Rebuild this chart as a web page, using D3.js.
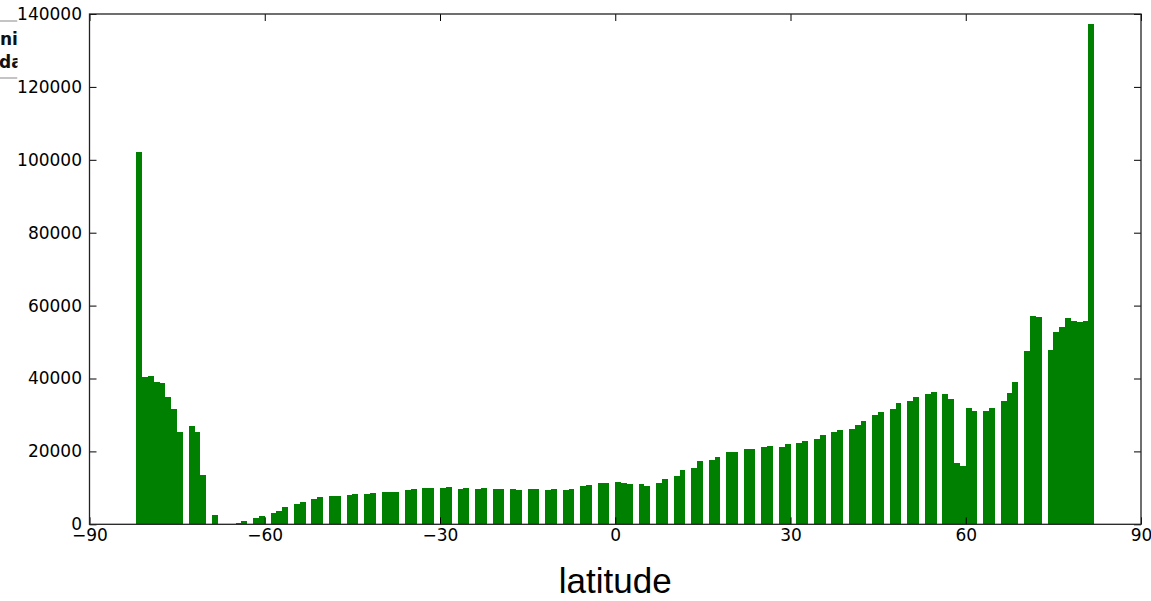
<!DOCTYPE html>
<html>
<head>
<meta charset="utf-8">
<script src="https://cdn.jsdelivr.net/npm/d3@7"></script>
<style>
  html, body { margin: 0; padding: 0; background: #ffffff; }
  svg { display: block; }
</style>
</head>
<body>
<svg id="chart" width="1151" height="601"></svg>
<script>
// Histogram of latitudes, 1-degree bins.
const firstBinLat = -82;           // left edge of the first bin
const binWidth = 1;                // degrees per bin
// counts per bin, from [-82,-81) up to [81,82)
const counts = [
  102200, 40300, 40600, 39100, 38700, 35000, 31500, 25300,      // -82 .. -75
  0, 27100, 25300, 13600, 0, 2500, 100, 150, 200, 350, 850,      // -74 .. -64
  0, 1700, 2400, 0, 3100, 3700, 4700, 0, 5500, 6000,             // -63 .. -54
  0, 7000, 7500, 0, 7800, 7800, 0, 8100, 8400, 0,                // -53 .. -44
  8400, 8700, 0, 8900, 8900, 8900, 0, 9500, 9600, 0,             // -43 .. -34
  9900, 9900, 0, 9900, 10200, 0, 9600, 9900, 0, 9800,            // -33 .. -24
  10000, 0, 9800, 9800, 0, 9800, 9500, 0, 9800, 9800,            // -23 .. -14
  0, 9500, 9800, 0, 9500, 9800, 0, 10400, 10700, 0,              // -13 .. -4
  11300, 11300, 0, 11700, 11300, 11000, 0, 11000, 10400, 0,      // -3 .. 6
  11300, 12400, 0, 13300, 14800, 0, 15400, 17400, 0, 17700,      // 7 .. 16
  18600, 0, 19800, 19800, 0, 20600, 20600, 0, 21200, 21500,      // 17 .. 26
  0, 21200, 22000, 0, 22300, 22900, 0, 23500, 24400, 0,          // 27 .. 36
  25300, 25900, 0, 26200, 27300, 28400, 0, 30000, 30800, 0,      // 37 .. 46
  31500, 33200, 0, 33800, 34900, 0, 35800, 36400, 0, 35800,      // 47 .. 56
  34400, 16900, 16100, 31800, 31200, 0, 31200, 31800, 0, 33900,  // 57 .. 66
  36100, 39100, 0, 47600, 57200, 56900, 0, 47800, 52800, 54000,  // 67 .. 76
  56500, 55800, 55600, 55900, 137300                             // 77 .. 81
];
const xTicks = [-90, -60, -30, 0, 30, 60, 90];
const yTicks = [0, 20000, 40000, 60000, 80000, 100000, 120000, 140000];
const xLabel = "latitude";
const cornerWords = ["ni", "da"];

const svg = d3.select("#chart");
const plot = { left: 89.5, top: 14, right: 1141, bottom: 524.3 };

const x = d3.scaleLinear().domain([-90, 90]).range([plot.left, plot.right]);
const y = d3.scaleLinear().domain([0, 140000]).range([plot.bottom, plot.top]);

const bins = counts.map((c, i) => ({
  x0: firstBinLat + i * binWidth,
  x1: firstBinLat + (i + 1) * binWidth,
  count: c
}));

// bars (crisp edges so neighbouring bars join without seams)
svg.append("g")
  .attr("shape-rendering", "crispEdges")
  .selectAll("rect")
  .data(bins)
  .join("rect")
  .attr("x", d => x(d.x0))
  .attr("width", d => x(d.x1) - x(d.x0))
  .attr("y", d => y(d.count))
  .attr("height", d => y(0) - y(d.count))
  .attr("fill", "#008000");

const tickFont = "'DejaVu Sans', 'Bitstream Vera Sans', sans-serif";
const fmt = d3.format("d");

function styleAxis(g, showLabels) {
  g.select(".domain").remove();
  g.selectAll(".tick line").attr("stroke", "#000").attr("stroke-width", 1);
  g.selectAll(".tick text")
    .attr("fill", "#000")
    .style("font-family", tickFont)
    .style("font-size", "17px");
  if (!showLabels) g.selectAll(".tick text").remove();
}

// bottom & top axes (ticks pointing inward)
svg.append("g")
  .attr("transform", `translate(0,${plot.bottom})`)
  .call(d3.axisBottom(x).tickValues(xTicks).tickFormat(fmt).tickSizeInner(-7).tickSizeOuter(0).tickPadding(5))
  .call(g => styleAxis(g, true));
svg.append("g")
  .attr("transform", `translate(0,${plot.top})`)
  .call(d3.axisTop(x).tickValues(xTicks).tickSizeInner(-7).tickSizeOuter(0))
  .call(g => styleAxis(g, false));

// left & right axes
svg.append("g")
  .attr("transform", `translate(${plot.left},0)`)
  .call(d3.axisLeft(y).tickValues(yTicks).tickFormat(fmt).tickSizeInner(-7).tickSizeOuter(0).tickPadding(7.5))
  .call(g => styleAxis(g, true));
svg.append("g")
  .attr("transform", `translate(${plot.right},0)`)
  .call(d3.axisRight(y).tickValues(yTicks).tickSizeInner(-7).tickSizeOuter(0))
  .call(g => styleAxis(g, false));

// frame
svg.append("rect")
  .attr("x", plot.left)
  .attr("y", plot.top)
  .attr("width", plot.right - plot.left)
  .attr("height", plot.bottom - plot.top)
  .attr("fill", "none")
  .attr("stroke", "#222")
  .attr("stroke-width", 1.3);

// axis title
svg.append("text")
  .attr("x", (plot.left + plot.right) / 2)
  .attr("y", 593)
  .attr("text-anchor", "middle")
  .style("font-family", "'Liberation Sans', Arial, sans-serif")
  .style("font-size", "35px")
  .attr("fill", "#000")
  .text(xLabel);

// clipped panel fragment at the top-left corner
const clip = svg.append("clipPath").attr("id", "cornerClip");
clip.append("rect").attr("x", 0).attr("y", 0).attr("width", 17.5).attr("height", 100);
const corner = svg.append("g").attr("clip-path", "url(#cornerClip)");
corner.append("line").attr("x1", 0).attr("x2", 17.5).attr("y1", 21).attr("y2", 21)
  .attr("stroke", "#b0b0b0").attr("stroke-width", 1.5);
corner.append("line").attr("x1", 0).attr("x2", 17.5).attr("y1", 78).attr("y2", 78)
  .attr("stroke", "#b0b0b0").attr("stroke-width", 1.5);
corner.selectAll("text.word")
  .data(cornerWords)
  .join("text")
  .attr("class", "word")
  .attr("x", (d, i) => i === 0 ? 0 : -1)
  .attr("y", (d, i) => 45 + i * 23)
  .style("font-family", tickFont)
  .style("font-weight", "bold")
  .style("font-size", "17px")
  .attr("fill", "#111")
  .text(d => d);
</script>
</body>
</html>
